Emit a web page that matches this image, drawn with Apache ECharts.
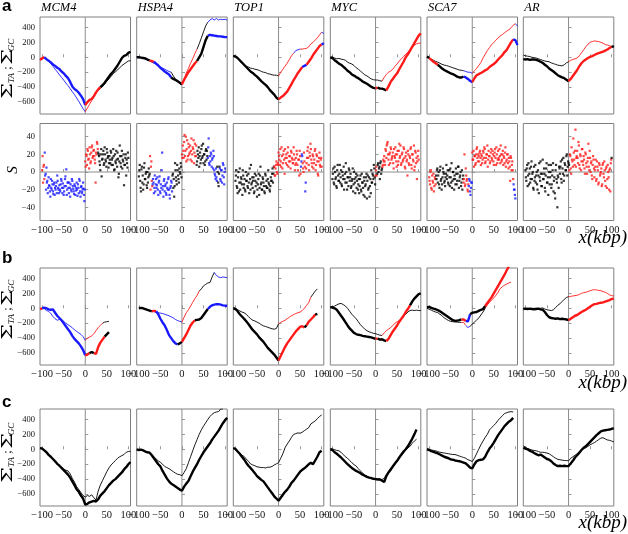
<!DOCTYPE html>
<html><head><meta charset="utf-8">
<script src="https://cdn.jsdelivr.net/npm/echarts@6/dist/echarts.min.js"></script>
<style>html,body{margin:0;padding:0;background:#fff}#c{width:628px;height:534px}</style>
</head><body><div id="c"></div>
<script>
const genes = ['MCM4','HSPA4','TOP1','MYC','SCA7','AR'];
const panelLetters = ['a','b','c'];
const xTicks = [-100,-50,0,50,100];
const cumTicks = [-600,-400,-200,0,200,400];
const sTicks = [-40,-20,0,20,40];

// x grid of cumulative curves (kbp)
const XK = [-105,-100,-95,-90,-85,-80,-75,-70,-65,-60,-55,-50,-45,-40,-35,-30,-25,-20,-15,-10,-5,0,5,10,15,20,25,30,35,40,45,50,55,60,65,70,75,80,85,90,95,100,105];
// x positions of skew windows (kbp): even and odd positions
const XS = [-100,-98,-96,-94,-92,-90,-88,-86,-84,-82,
-80,-78,-76,-74,-72,-70,-68,-66,-64,-62,
-60,-58,-56,-54,-52,-50,-48,-46,-44,-42,
-40,-38,-36,-34,-32,-30,-28,-26,-24,-22,
-20,-18,-16,-14,-12,-10,-8,-6,-4,-2,
0,2,4,6,8,10,12,14,16,18,
20,22,24,26,28,30,32,34,36,38,
40,42,44,46,48,50,52,54,56,58,
60,62,64,66,68,70,72,74,76,78,
80,82,84,86,88,90,92,94,96,98,
100];
const XS2 = [-99,-97,-95,-93,-91,-89,-87,-85,-83,-81,
-79,-77,-75,-73,-71,-69,-67,-65,-63,-61,
-59,-57,-55,-53,-51,-49,-47,-45,-43,-41,
-39,-37,-35,-33,-31,-29,-27,-25,-23,-21,
-19,-17,-15,-13,-11,-9,-7,-5,-3,-1,
1,3,5,7,9,11,13,15,17,19,
21,23,25,27,29,31,33,35,37,39,
41,43,45,47,49,51,53,55,57,59,
61,63,65,67,69,71,73,75,77,79,
81,83,85,87,89,91,93,95,97,99];

// ---- panel a, cumulative (thick = sum TA, thin = sum GC)
const a_MCM4_thick = [-35,-15,0,-25,-45,-68,-95,-115,-140,-158, -190,-215,-250,-280,-330,-390,-425,-445,-475,-515, -560,-640,-600,-570,-560,-520,-470,-430,-400,-375, -340,-300,-260,-220,-190,-150,-110,-60,-10,20, 30,60,75];
const a_MCM4_thin = [-20,-5,5,-20,-50,-85,-120,-160,-195,-235, -270,-305,-345,-380,-420,-460,-500,-545,-590,-640, -690,-730,-680,-630,-580,-530,-480,-440,-420,-390, -360,-320,-290,-255,-220,-195,-170,-140,-110,-90, -70,-50,-45];
const a_HSPA4_thick = [0,0,-5,-10,-15,-30,-40,-50,-60,-85, -110,-140,-165,-190,-210,-230,-270,-290,-305,-320, -340,-360,-300,-250,-200,-160,-120,-80,-50,0, 50,140,230,290,300,295,290,285,280,280, 275,270,270];
const a_HSPA4_thin = [5,0,-5,-15,-25,-35,-50,-65,-80,-90, -110,-130,-145,-160,-175,-190,-200,-250,-290,-320, -350,-370,-300,-210,-150,-80,-20,50,110,180, 260,340,420,470,500,520,500,520,500,510, 505,510,500];
const a_TOP1_thick = [20,10,-10,-40,-70,-100,-130,-160,-190,-210, -235,-260,-290,-320,-345,-370,-400,-440,-470,-500, -540,-565,-540,-520,-490,-460,-410,-360,-305,-260, -210,-170,-130,-115,-100,-60,-20,30,70,110, 150,170,190];
const a_TOP1_thin = [20,15,-10,-50,-80,-100,-120,-130,-145,-150, -160,-165,-175,-190,-200,-205,-220,-225,-235,-240, -240,-250,-200,-160,-120,-80,-30,20,55,90, 100,110,110,115,120,140,180,200,230,260, 300,335,320];
const a_MYC_thick = [0,-10,-40,-60,-85,-100,-125,-150,-180,-200, -230,-245,-265,-280,-300,-325,-340,-355,-375,-395, -410,-415,-405,-420,-420,-430,-445,-390,-330,-290, -250,-215,-160,-110,-60,0,40,90,140,190, 240,290,320];
const a_MYC_thin = [0,5,-10,-20,-15,-25,-30,-40,-65,-80, -90,-110,-140,-160,-185,-210,-235,-250,-270,-290, -300,-305,-305,-315,-320,-270,-230,-200,-185,-160, -120,-90,-50,-20,10,40,70,100,130,160, 180,190,190];
const a_SCA7_thick = [10,-10,-35,-60,-80,-100,-125,-150,-170,-185, -200,-215,-225,-240,-260,-270,-270,-260,-270,-290, -315,-335,-280,-240,-225,-210,-195,-175,-160,-130, -110,-90,-65,-30,0,30,70,100,150,200, 240,230,165];
const a_SCA7_thin = [10,-5,-25,-40,-55,-65,-80,-95,-105,-110, -120,-130,-140,-150,-160,-170,-175,-180,-190,-200, -200,-215,-180,-150,-110,-70,-10,40,90,130, 170,200,230,260,285,305,330,350,370,395, 430,450,420];
const a_AR_thick = [-25,-30,-25,-35,-30,-30,-35,-45,-60,-75, -100,-120,-150,-170,-190,-215,-240,-255,-270,-280, -300,-320,-290,-250,-210,-170,-120,-80,-50,-30, -10,5,15,30,45,55,65,75,90,105, 125,140,150];
const a_AR_thin = [30,20,15,10,0,-5,-10,-20,-30,-40, -50,-55,-60,-75,-85,-95,-105,-110,-115,-100, -75,-60,-40,-30,-20,-10,20,60,100,140, 175,200,210,220,215,210,200,190,170,165, 155,145,140];

// strand of each stretch: k = none, r = one strand, b = other strand
const a_MCM4_thickCol = [[-105,'r'],[-95,'b'],[0,'r'],[35,'k']];
const a_MCM4_thinCol = [[-105,'r'],[-95,'b'],[0,'r'],[30,'k']];
const a_HSPA4_thickCol = [[-105,'k'],[-75,'r'],[-65,'b'],[-25,'k'],[0,'r'],[35,'k'],[60,'b']];
const a_HSPA4_thinCol = [[-105,'b'],[-25,'k'],[0,'r'],[35,'k'],[60,'b']];
const a_TOP1_thickCol = [[-105,'k'],[0,'r'],[55,'b'],[65,'r'],[100,'b']];
const a_TOP1_thinCol = [[-105,'k'],[0,'r'],[35,'b'],[50,'r'],[100,'b']];
const a_MYC_thickCol = [[-105,'k'],[0,'r'],[5,'k'],[25,'r']];
const a_MYC_thinCol = [[-105,'k'],[15,'r']];
const a_SCA7_thickCol = [[-105,'k'],[-100,'r'],[-80,'k'],[-20,'b'],[0,'r'],[95,'b']];
const a_SCA7_thinCol = [[-105,'k'],[-20,'b'],[0,'r'],[100,'b']];
const a_AR_thickCol = [[-105,'k'],[0,'r'],[100,'k']];
const a_AR_thinCol = [[-105,'k'],[0,'r'],[100,'k']];

// ---- panel a, skew S (even windows, then odd windows)
const s_MCM4 = [2,-12,8,22,-2,5,-10,-18,-15,-22,
-8,-20,-14,-25,-12,-18,-16,-24,-10,-20,
-15,-22,-8,-18,-13,-26,-16,-5,3,-20,
-12,-24,-18,-14,-22,-10,-19,-25,-16,-21,
-12,-27,-18,-8,-22,-17,-24,-19,-19,-33,
12,20,8,24,15,28,10,22,30,18,
25,14,-12,20,32,22,18,8,20,-5,
15,24,10,20,12,26,16,5,18,10,
22,14,8,18,3,12,24,6,15,-2,
30,10,18,4,12,-15,8,20,14,5,
16];
const s2_MCM4 = [18,6,-8,-4,-20,-12,-24,-6,-16,-28,
-18,-10,-22,-14,-26,-20,-12,-4,-18,-24,
-20,-14,-10,-24,-18,-22,-8,-16,-26,-12,
-18,-12,-28,-20,-8,-16,-22,-14,-26,-18,
-20,-14,-24,-10,-28,-16,-22,-12,-26,-20,
6,18,26,14,4,20,12,28,16,24,
18,10,22,34,26,20,12,2,26,14,
20,8,28,14,6,22,18,10,14,24,
8,16,26,2,20,10,14,22,-6,12,
18,6,24,14,20,8,16,-4,10,22];
const s_HSPA4 = [-5,8,-18,3,-12,-20,5,-8,-2,-15,
0,-6,-4,18,6,-10,-14,-12,-18,-22,
-8,-15,-20,-12,-5,-24,-18,22,-16,-10,
-22,-14,-26,-18,-8,-20,-30,-16,-12,-4,
-18,-28,10,-6,-14,2,-8,4,-2,6,
20,30,16,42,24,12,36,18,28,22,
14,38,20,26,10,32,18,8,24,16,
6,22,14,30,18,10,20,12,26,24,
16,38,8,12,20,14,4,18,-2,-8,
-6,6,-12,-2,4,-10,2,-4,8,-14,
4];
const s2_HSPA4 = [2,-10,-22,6,-4,-14,10,-8,0,-18,
-12,4,-2,-20,12,-16,-8,-24,-4,-14,
-18,-6,-26,-10,-22,-14,2,-20,-28,-8,
-16,-24,-12,-20,-6,-26,-18,-10,-22,-2,
-8,-16,2,-10,8,-4,-12,0,10,-6,
16,24,34,18,40,26,14,32,20,30,
24,12,28,36,22,18,30,12,20,28,
18,10,26,16,32,20,8,24,14,18,
28,10,18,22,6,16,24,2,-4,4,
-10,0,-16,6,-8,2,-12,10,-6,0];
const s_TOP1 = [-10,2,-18,-6,-22,4,-12,-8,-26,-4,
-14,-20,0,-10,-16,-2,-24,-8,8,-12,
-18,-6,-22,-10,-4,-28,-14,-2,-18,6,
-12,-20,-8,-16,-24,-4,-10,-18,2,-14,
-22,-6,-10,4,-2,6,-4,8,0,10,
22,14,26,6,18,10,24,-2,16,20,
8,28,12,18,4,22,14,10,20,2,
16,24,8,14,-4,18,6,20,10,0,
12,-22,4,16,28,8,22,32,14,6,
18,10,24,2,20,12,-4,16,8,14,
6];
const s2_TOP1 = [-4,-16,-24,0,-12,-20,-6,-14,2,-18,
-8,-22,-10,-4,-18,-12,4,-20,-14,-6,
-10,-24,-2,-16,-12,-20,-8,-26,-4,-14,
-20,-6,-12,-22,-2,-16,-18,-8,-12,-20,
-16,-10,-2,-12,6,-4,4,12,-2,8,
18,8,12,28,4,20,14,26,10,16,
22,6,18,12,24,16,10,28,14,8,
10,20,2,14,24,-2,12,18,4,22,
6,-12,10,24,16,2,18,26,10,20,
4,14,26,8,18,-2,12,22,6,16];
const s_MYC = [-8,4,-14,0,-6,-18,8,-10,-2,-12,
2,-16,-4,6,-8,-12,0,-20,-6,4,
-10,-2,-16,-8,-22,0,-12,-6,-18,-4,
-14,-24,-8,-20,-2,-12,-26,-10,-16,-6,
-30,-4,-18,-28,-8,2,-12,-4,8,-6,
-4,6,-2,10,4,-8,12,2,6,14,
18,8,24,30,34,14,20,10,26,16,
22,4,18,28,12,20,8,24,16,30,
10,22,14,26,6,18,12,-4,20,8,
16,28,4,20,12,2,24,10,-8,18,
14];
const s2_MYC = [-2,-12,6,-8,-16,2,-4,-10,8,-6,
-14,0,-8,-20,-2,10,-12,-6,-16,2,
-6,-18,-10,4,-14,-8,-24,-2,-10,-20,
-8,-16,-4,-22,-12,-18,-6,-28,-14,-2,
-10,-20,-6,-16,-24,-12,-2,-8,4,-14,
2,-4,8,0,6,10,-2,4,8,12,
12,26,16,32,20,8,22,28,14,18,
10,26,16,20,6,24,12,32,18,8,
20,12,28,16,4,22,14,24,10,18,
26,8,20,14,30,6,22,16,12,24];
const s_SCA7 = [-6,-14,2,-20,-10,-2,-16,-8,-4,2,
-12,0,-18,6,-8,-14,4,-2,-10,-6,
8,-4,-12,2,-16,-6,10,-10,0,-20,
-8,4,-14,-2,6,-10,-4,-16,2,-8,
-12,20,-14,-4,-8,-22,-16,-10,-26,-12,
22,14,6,18,10,26,16,20,12,24,
8,18,14,22,28,10,16,20,6,24,
18,12,26,14,20,8,22,16,28,10,
24,14,18,30,12,20,8,16,22,6,
14,20,4,12,-10,16,8,2,-14,-20,
-30];
const s2_SCA7 = [-10,0,-18,-4,-12,-22,-6,-14,-8,4,
-4,-14,2,-10,-20,-6,0,-12,-16,-2,
-8,2,-14,-6,4,-12,-18,0,-8,-4,
-14,-2,-10,6,-18,-6,0,-12,-20,-4,
-8,-16,4,-10,-20,-14,-8,-22,-18,-12,
14,24,18,8,20,28,12,18,22,16,
20,10,24,16,26,12,20,30,14,18,
10,22,16,24,12,18,26,8,20,14,
16,26,10,20,14,24,18,10,28,12,
20,10,16,6,18,2,12,-8,-20,-26];
const s_AR = [2,-10,8,-4,-14,4,-8,12,-2,-18,
6,-6,-12,0,-20,-4,10,-10,-2,-16,
14,-8,-2,-22,4,-12,-6,8,-14,0,
-18,-4,10,-10,-24,2,-8,-40,-6,6,
-2,12,-12,4,16,-4,8,2,20,6,
10,2,18,-2,14,6,22,8,48,16,
24,10,30,4,18,12,26,8,14,-2,
20,6,12,32,2,16,10,-4,8,14,
-6,6,-10,12,2,-12,8,-2,4,-14,
10,-6,2,-16,6,-8,0,-20,4,10,
16];
const s2_AR = [-6,4,-16,10,-2,-12,6,-8,0,-20,
-10,8,-4,-14,2,-24,-6,12,-16,-2,
-8,4,-18,-4,10,-12,-26,0,-6,8,
-14,2,-22,-6,-30,8,-12,-4,-18,4,
6,-8,14,-2,-10,10,2,18,-4,12,
8,20,4,28,12,38,14,24,6,18,
16,34,8,20,2,26,12,18,4,22,
10,-2,16,6,24,0,12,-8,18,4,
2,14,-8,6,-14,10,-4,0,-16,8,
-2,12,-10,4,-18,8,-6,2,-22,14];
const s_MCM4_col = [[-100,'r'],[-94,'b'],[0,'r'],[30,'k']];
const s_HSPA4_col = [[-100,'k'],[-74,'r'],[-68,'b'],[-22,'k'],[0,'r'],[34,'k'],[60,'b'],[82,'k'],[88,'b']];
const s_TOP1_col = [[-100,'k'],[-10,'r'],[52,'b'],[56,'r'],[62,'b'],[64,'r']];
const s_MYC_col = [[-100,'k'],[0,'r'],[4,'k'],[16,'r']];
const s_SCA7_col = [[-100,'r'],[-84,'k'],[-20,'r'],[-8,'b'],[0,'r'],[96,'b']];
const s_AR_col = [[-100,'k'],[2,'r'],[100,'k']];

// ---- panel b
const b_MCM4_thick = [-10,0,10,0,-15,-20,-15,-60,-100,-130, -160,-200,-240,-280,-320,-370,-410,-440,-470,-510, -560,-630,-620,-600,-585,-600,-610,-520,-460,-420, -380,-350,-320,null,null,null,null,null,null,null, null,null,null];
const b_MCM4_thin = [-10,0,-5,-30,-40,-70,-110,-140,-160,-150, -160,-175,-200,-220,-240,-260,-290,-310,-330,-350, -380,-430,-400,-385,-370,-340,-300,-260,-230,-200, -185,-180,-175,null,null,null,null,null,null,null, null,null,null];
const b_HSPA4_thick = [null,0,5,0,-10,-20,-30,-40,-35,-40, -80,-140,-190,-230,-290,-360,-400,-440,-470,-485, -470,-450,-400,-350,-290,-230,-190,-160,-155,-150, -130,-90,-50,-10,20,40,50,55,55,50, 40,35,35];
const b_HSPA4_thin = [null,0,5,-5,-15,-20,-30,-35,-45,-55, -60,-65,-70,-80,-90,-100,-115,-130,-150,-165, -175,-185,-120,-60,-20,30,80,130,170,230, 260,300,320,340,345,420,480,440,420,410, 420,415,410];
const b_TOP1_thick = [0,-10,-40,-80,-110,-140,-175,-210,-250,-290, -320,-350,-390,-420,-450,-490,-530,-560,-590,-620, -660,-700,-640,-580,-520,-470,-430,-390,-350,-310, -280,-250,-240,-255,-230,-180,-150,-120,-85,-75, null,null,null];
const b_TOP1_thin = [10,0,-20,-35,-50,-60,-80,-110,-140,-160, -170,-185,-200,-220,-235,-245,-255,-265,-275,-280, -270,-210,-190,-175,-160,-140,-120,-100,-85,-70, -60,-50,-30,0,40,75,150,190,230,260, null,null,null];
const b_MYC_thick = [15,10,0,-20,-60,-100,-140,-185,-230,-270, -300,-330,-345,-355,-360,-370,-375,-380,-385,-390, -400,-410,-405,-420,-415,-430,-440,-410,-360,-310, -270,-230,-180,-140,-100,-50,-10,40,90,130, 160,190,200];
const b_MYC_thin = [15,20,30,45,60,65,50,30,0,-40, -80,-110,-140,-180,-220,-250,-280,-300,-315,-325, -335,-340,-350,-360,-365,-330,-300,-280,-260,-230, -200,-180,-165,-140,-110,-80,-50,-30,-25,-30, -25,-30,-30];
const b_SCA7_thick = [15,18,5,-5,-13,-25,-40,-60,-80,-100, -120,-140,-160,-170,-165,-160,-150,-150,-170,-175, -80,-60,-55,-50,-35,-20,-10,30,70,110, 150,200,250,300,350,400,450,510,560,null, null,null,null];
const b_SCA7_thin = [0,-13,-25,-40,-50,-58,-80,-100,-130,-147, -165,-175,-180,-182,-185,-188,-190,-190,-230,-258, -240,-213,-185,-160,-130,-90,-50,0,45,80, 110,140,175,215,265,290,310,325,340,350, null,null,null];
const b_AR_thick = [-10,-5,-10,-5,-10,-15,-10,-5,-15,-20, -50,-90,-120,-130,-135,-140,-135,-145,-140,-145, -150,-160,-140,-120,-100,-90,-70,-50,-35,-20, 0,20,40,55,60,70,75,80,90,100, 110,125,130];
const b_AR_thin = [0,-5,0,-10,-5,0,0,-5,0,5, -10,-20,-25,-30,-20,10,40,60,90,120, 145,155,160,165,170,175,185,200,210,215, 225,235,245,250,245,240,235,225,215,200, 180,170,165];
const b_MCM4_thickCol = [[-105,'r'],[-100,'b'],[0,'r'],[10,'k'],[20,'r'],[45,'k']];
const b_MCM4_thinCol = [[-105,'b'],[0,'r'],[40,'k']];
const b_HSPA4_thickCol = [[-105,'k'],[-70,'r'],[-60,'b'],[-10,'k'],[0,'r'],[30,'k'],[60,'b']];
const b_HSPA4_thinCol = [[-105,'b'],[0,'r'],[40,'k'],[75,'b']];
const b_TOP1_thickCol = [[-105,'k'],[0,'r'],[60,'k'],[65,'r'],[85,'k']];
const b_TOP1_thinCol = [[-105,'k'],[0,'r'],[75,'k']];
const b_MYC_thickCol = [[-105,'k'],[0,'r'],[5,'k'],[25,'r'],[80,'k']];
const b_MYC_thinCol = [[-105,'k'],[15,'r'],[55,'k']];
const b_SCA7_thickCol = [[-105,'k'],[-25,'r'],[-15,'b'],[-5,'k'],[30,'r']];
const b_SCA7_thinCol = [[-105,'k'],[-25,'r'],[-15,'b'],[-5,'k'],[30,'r']];
const b_AR_thickCol = [[-105,'k'],[0,'r']];
const b_AR_thinCol = [[-105,'k'],[0,'r']];

// ---- panel c (all black)
const c_MCM4_thick = [15,10,-15,-40,-75,-100,-130,-160,-195,-220, -250,-280,-310,-340,-380,-430,-480,-535,-570,-620, -660,-740,-730,-710,-700,-690,-700,-670,-620,-590, -560,-520,-480,-450,-420,-400,-370,-340,-310,-270, -240,-200,-170];
const c_MCM4_thin = [15,10,-15,-40,-75,-100,-130,-160,-190,-215, -240,-270,-280,-290,-330,-390,-440,-500,-540,-580, -620,-640,-620,-630,-610,-650,-680,-560,-480,-420, -360,-300,-250,-210,-180,-150,-120,-100,-85,-70, -40,-30,-25];
const c_HSPA4_thick = [0,-10,-5,-15,-30,-40,-45,-80,-120,-160, -200,-230,-290,-340,-390,-430,-460,-480,-500,-520, -540,-555,-500,-460,-425,-360,-300,-250,-200,-140, -90,-40,0,40,80,130,170,210,250,300, 350,390,420];
const c_HSPA4_thin = [0,-10,-5,-15,-25,-40,-50,-70,-100,-130, -155,-175,-200,-230,-245,-260,-280,-300,-320,-335, -340,-355,-310,-260,-180,-100,-20,60,130,200, 260,310,355,400,440,470,490,500,505,540, 540,null,null];
const c_TOP1_thick = [15,5,-30,-60,-100,-135,-180,-220,-250,-285, -320,-360,-385,-410,-430,-470,-510,-550,-590,-630, -660,-690,-650,-610,-570,-540,-500,-450,-420,-380, -340,-300,-275,-255,-230,-200,-180,-200,-150,-100, -40,-20,null];
const c_TOP1_thin = [15,10,-20,-50,-80,-95,-130,-160,-195,-210, -220,-235,-240,-245,-245,-250,-240,-240,-230,-210, -195,-180,-120,-60,20,70,110,160,200,210, 220,215,230,250,270,290,340,360,380,410, 440,460,null];
const c_MYC_thick = [0,-10,-40,-60,-85,-110,-140,-170,-200,-225, -250,-270,-290,-305,-320,-340,-355,-370,-380,-385, -395,-400,-405,-405,-420,-440,-360,-310,-270,-230, -190,-155,-110,-70,-30,0,40,90,140,200, 265,null,null];
const c_MYC_thin = [10,5,-5,-15,-20,-40,-70,-100,-120,-150, -180,-205,-225,-260,-290,-320,-345,-360,-375,-390, -395,-400,-395,-400,-405,-390,-340,-310,-290,-240, -190,-150,-110,-80,-50,-10,20,40,80,110, 135,null,null];
const c_SCA7_thick = [0,-10,-25,-35,-45,-55,-70,-85,-100,-110, -120,-135,-140,-150,-155,-160,-170,-180,-190,-215, -245,-255,-200,-160,-145,-140,-135,-100,-40,10, 45,90,140,190,230,270,310,340,370,390, 420,null,null];
const c_SCA7_thin = [10,0,-10,-15,-20,-30,-40,-45,-50,-55, -60,-65,-70,-70,-80,-90,-100,-110,-120,-140, -150,-165,-120,-60,0,60,110,160,200,260, 290,320,350,390,420,450,480,490,500,505, 500,null,null];
const c_AR_thick = [20,10,0,-20,-30,-50,-65,-80,-70,-90, -110,-130,-140,-160,-190,-210,-225,-220,-225,-220, -225,-225,-190,-155,-110,-80,-45,-10,20,40, 70,100,130,160,190,215,240,250,255,260, 265,275,280];
const c_AR_thin = [45,30,10,0,-10,-15,-20,-30,-40,-40, -45,-50,-60,-80,-100,-120,-135,-140,-145,-150, -150,-155,-120,-100,-80,-60,-30,-10,10,20, 40,60,75,90,110,130,150,155,140,125, 120,110,100];
const c_allCol = [[-105,'k']];

// ================= build =================
const COLORS = {k:'#000000', r:'#ff1a1a', b:'#1a1aff'};
const colLeft = [40,136.7,233.3,330.3,427,523.3];
const panelW = 90.5;
const rowTop = [17,123.5,268,409];
const panelH = 97;
const cumRange = [-760,540];
const sRange = [-55,55];

const rowA = {thick:[a_MCM4_thick,a_HSPA4_thick,a_TOP1_thick,a_MYC_thick,a_SCA7_thick,a_AR_thick],
  thin:[a_MCM4_thin,a_HSPA4_thin,a_TOP1_thin,a_MYC_thin,a_SCA7_thin,a_AR_thin],
  thickCol:[a_MCM4_thickCol,a_HSPA4_thickCol,a_TOP1_thickCol,a_MYC_thickCol,a_SCA7_thickCol,a_AR_thickCol],
  thinCol:[a_MCM4_thinCol,a_HSPA4_thinCol,a_TOP1_thinCol,a_MYC_thinCol,a_SCA7_thinCol,a_AR_thinCol]};
const rowB = {thick:[b_MCM4_thick,b_HSPA4_thick,b_TOP1_thick,b_MYC_thick,b_SCA7_thick,b_AR_thick],
  thin:[b_MCM4_thin,b_HSPA4_thin,b_TOP1_thin,b_MYC_thin,b_SCA7_thin,b_AR_thin],
  thickCol:[b_MCM4_thickCol,b_HSPA4_thickCol,b_TOP1_thickCol,b_MYC_thickCol,b_SCA7_thickCol,b_AR_thickCol],
  thinCol:[b_MCM4_thinCol,b_HSPA4_thinCol,b_TOP1_thinCol,b_MYC_thinCol,b_SCA7_thinCol,b_AR_thinCol]};
const rowC = {thick:[c_MCM4_thick,c_HSPA4_thick,c_TOP1_thick,c_MYC_thick,c_SCA7_thick,c_AR_thick],
  thin:[c_MCM4_thin,c_HSPA4_thin,c_TOP1_thin,c_MYC_thin,c_SCA7_thin,c_AR_thin],
  thickCol:[c_allCol,c_allCol,c_allCol,c_allCol,c_allCol,c_allCol],
  thinCol:[c_allCol,c_allCol,c_allCol,c_allCol,c_allCol,c_allCol]};
const sVals = [s_MCM4.concat(s2_MCM4), s_HSPA4.concat(s2_HSPA4), s_TOP1.concat(s2_TOP1),
  s_MYC.concat(s2_MYC), s_SCA7.concat(s2_SCA7), s_AR.concat(s2_AR)];
const XSall = XS.concat(XS2);
const sCols = [s_MCM4_col,s_HSPA4_col,s_TOP1_col,s_MYC_col,s_SCA7_col,s_AR_col];

function segments(xs, ys, cols, inclusiveEnd) {
  const out = [];
  for (let j = 0; j < cols.length; j++) {
    const s = cols[j][0];
    const e = j + 1 < cols.length ? cols[j+1][0] : Infinity;
    const d = [];
    xs.forEach((x, i) => {
      const inside = inclusiveEnd ? (x >= s && x <= e) : (x >= s && x < e);
      if (inside && ys[i] != null) d.push([x, ys[i]]);
    });
    if (inclusiveEnd) d.sort((p, q) => p[0] - q[0]);
    if (d.length) out.push({color: COLORS[cols[j][1]], data: d});
  }
  return out;
}

const minus = v => String(v).replace('-', '\u2212');
const grids = [], xAxes = [], yAxes = [], series = [];
const tickFont = 'Liberation Serif';

for (let r = 0; r < 4; r++) {
  for (let c = 0; c < 6; c++) {
    const g = grids.length;
    const isS = r === 1;
    const range = isS ? sRange : cumRange;
    const yt = isS ? sTicks : cumTicks;
    grids.push({left: colLeft[c], top: rowTop[r], width: panelW, height: panelH,
      show: true, borderColor: '#808080', borderWidth: 1, backgroundColor: 'rgba(0,0,0,0)'});
    xAxes.push({gridIndex: g, type: 'value', min: -105, max: 105,
      axisLine: {show: false}, splitLine: {show: false},
      axisTick: {show: true, inside: true, length: 3, customValues: xTicks, lineStyle: {color: '#999'}},
      axisLabel: {show: r > 0, customValues: xTicks, formatter: minus, fontFamily: tickFont,
        fontSize: 10.5, color: '#111', margin: 4}});
    yAxes.push({gridIndex: g, type: 'value', min: range[0], max: range[1],
      axisLine: {show: false}, splitLine: {show: false},
      axisTick: {show: true, inside: true, length: 3, customValues: yt, lineStyle: {color: '#999'}},
      axisLabel: {show: c === 0, customValues: yt, formatter: minus, fontFamily: tickFont,
        fontSize: 8.5, color: '#111', margin: 5}});
    series.push({type: 'line', xAxisIndex: g, yAxisIndex: g, data: [[0, range[0]], [0, range[1]]],
      showSymbol: false, silent: true, z: 1, animation: false,
      lineStyle: {color: '#8c8c8c', width: 1}});
    if (isS) {
      series.push({type: 'line', xAxisIndex: g, yAxisIndex: g, data: [[-105, 0], [105, 0]],
        showSymbol: false, silent: true, z: 1, animation: false,
        lineStyle: {color: '#8c8c8c', width: 1}});
      segments(XSall, sVals[c], sCols[c], false).forEach(sg => {
        series.push({type: 'scatter', xAxisIndex: g, yAxisIndex: g, data: sg.data,
          symbol: 'rect', symbolSize: 2.2, silent: true, z: 3, animation: false,
          itemStyle: {color: sg.color}});
      });
    } else {
      const row = r === 0 ? rowA : (r === 2 ? rowB : rowC);
      segments(XK, row.thin[c], row.thinCol[c], true).forEach(sg => {
        series.push({type: 'line', xAxisIndex: g, yAxisIndex: g, data: sg.data,
          showSymbol: false, silent: true, z: 2, animation: false, clip: true,
          lineStyle: {color: sg.color, width: 0.9}});
      });
      segments(XK, row.thick[c], row.thickCol[c], true).forEach(sg => {
        series.push({type: 'line', xAxisIndex: g, yAxisIndex: g, data: sg.data,
          showSymbol: false, silent: true, z: 3, animation: false, clip: true,
          lineStyle: {color: sg.color, width: 2.4}});
      });
    }
  }
}

const graphics = [];
const letterY = [7, 259, 403];
panelLetters.forEach((t, i) => graphics.push({type: 'text', left: 2, top: letterY[i] - 9,
  style: {text: t, font: 'bold 17px "Liberation Sans", Arial, sans-serif', fill: '#000'}}));
genes.forEach((gname, i) => graphics.push({type: 'text', x: colLeft[i] + 1, y: 8,
  style: {text: gname, font: 'italic 12.5px "Liberation Serif", serif', fill: '#000',
    align: 'left', verticalAlign: 'middle', textAlign: 'left', textVerticalAlign: 'middle'}}));
function txt(t, lx, ly, font, sx) {
  return {type: 'text', x: lx, y: ly, scaleX: sx || 1,
    style: {text: t, font: font, fill: '#000', align: 'center', verticalAlign: 'middle',
      textAlign: 'center', textVerticalAlign: 'middle'}};
}
const sigmaFont = '15px "DejaVu Serif", serif';
const subFont = 'italic 9px "Liberation Serif", serif';
[71, 312, 455].forEach(yy => graphics.push({type: 'group', x: 8, y: yy, rotation: Math.PI / 2,
  children: [
    txt('\u03A3', -20, 0, sigmaFont, 1.5),
    txt('TA', -7, 3.5, subFont),
    txt(';', 3, 0, '12px "Liberation Serif", serif'),
    txt('\u03A3', 14, 0, sigmaFont, 1.5),
    txt('GC', 26, 3.5, subFont)
  ]}));
graphics.push({type: 'text', x: 13, y: 170, rotation: Math.PI / 2,
  style: {text: 'S', font: 'italic 15px "Liberation Serif", serif', fill: '#000',
    align: 'center', verticalAlign: 'middle', textAlign: 'center', textVerticalAlign: 'middle'}});
[238, 383, 523].forEach(yy => graphics.push({type: 'text', x: 627, y: yy,
  style: {text: 'x(kbp)', font: 'italic 19px "Liberation Serif", serif', fill: '#000',
    align: 'right', verticalAlign: 'middle', textAlign: 'right', textVerticalAlign: 'middle'}}));

const chart = echarts.init(document.getElementById('c'), null, {renderer: 'canvas'});
chart.setOption({animation: false, backgroundColor: '#fff', grid: grids, xAxis: xAxes, yAxis: yAxes,
  series: series, graphic: {elements: graphics}});
</script></body></html>
